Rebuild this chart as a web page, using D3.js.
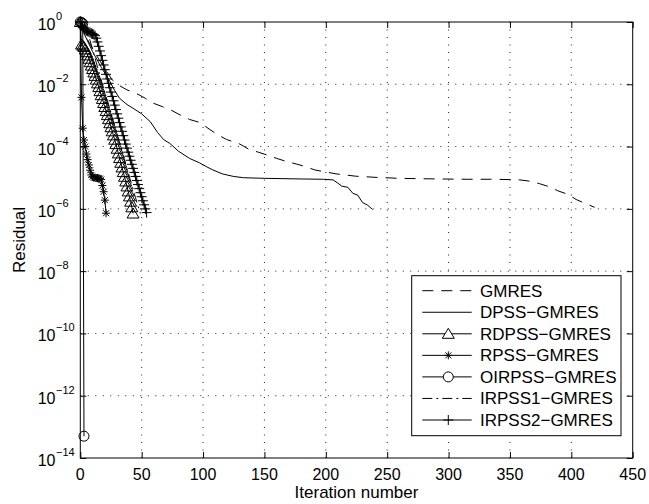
<!DOCTYPE html>
<html><head><meta charset="utf-8">
<script src="https://cdn.jsdelivr.net/npm/d3@7"></script>
<style>
body{margin:0;background:#fff}
svg{display:block}
text{font-family:"Liberation Sans",Arial,Helvetica,sans-serif;fill:#000}
</style>
</head><body>
<svg id="c" width="649" height="504"></svg>
<script>
// ---------- data ----------
const xTicks = [0, 50, 100, 150, 200, 250, 300, 350, 400, 450];
const yTickExps = [0, -2, -4, -6, -8, -10, -12, -14];
const seriesNames = ["GMRES", "DPSS\u2212GMRES", "RDPSS\u2212GMRES", "RPSS\u2212GMRES",
  "OIRPSS\u2212GMRES", "IRPSS1\u2212GMRES", "IRPSS2\u2212GMRES"];

// residuals stored as log10(residual)
const gmresIter = [0, 5, 12, 20, 26, 31, 38, 45, 53, 59, 67, 74, 82, 89, 97, 104, 111, 119, 130, 137, 145, 152, 160, 168, 176, 184, 191, 199, 209, 216, 224, 233, 241, 249, 259, 275, 291, 316, 334, 350, 358, 366, 374, 382, 389, 397, 404, 411, 419];
const gmresLog = [0, -0.5, -1.0, -1.5, -1.86, -2.02, -2.18, -2.28, -2.45, -2.6, -2.72, -2.83, -3.0, -3.13, -3.22, -3.41, -3.6, -3.77, -3.92, -4.08, -4.18, -4.27, -4.38, -4.48, -4.56, -4.65, -4.75, -4.81, -4.88, -4.91, -4.95, -4.97, -4.99, -5.0, -5.02, -5.03, -5.04, -5.05, -5.05, -5.06, -5.07, -5.11, -5.19, -5.29, -5.42, -5.53, -5.7, -5.82, -5.95];

const dpssIter = [0, 4, 10, 17, 24, 28, 32, 38, 43, 50, 57, 63, 68, 73, 80, 89, 97, 103, 108, 116, 125, 133, 150, 180, 198, 206, 210, 213, 218, 222, 226, 230, 234, 238];
const dpssLog = [0, -0.45, -0.95, -1.45, -1.9, -2.2, -2.45, -2.65, -2.77, -2.95, -3.2, -3.55, -3.78, -3.9, -4.15, -4.38, -4.52, -4.65, -4.75, -4.88, -4.96, -5.0, -5.02, -5.04, -5.05, -5.07, -5.18, -5.27, -5.31, -5.5, -5.56, -5.8, -5.88, -6.02];

// one value per iteration, starting at iteration 0
const rdpssLog = [0, -0.72, -0.76, -0.8, -0.88, -0.97, -1.07, -1.18, -1.29, -1.4, -1.51, -1.62, -1.73, -1.85, -1.97, -2.09, -2.22, -2.35, -2.47, -2.6, -2.73, -2.86, -2.99, -3.12, -3.25, -3.38, -3.51, -3.64, -3.78, -3.92, -4.07, -4.22, -4.37, -4.52, -4.67, -4.82, -4.97, -5.12, -5.28, -5.44, -5.6, -5.77, -5.95, -6.15];
const rpssLog = [0, -2.42, -3.41, -3.79, -4.0, -4.24, -4.42, -4.59, -4.76, -4.91, -4.97, -5.0, -5.0, -5.01, -5.01, -5.02, -5.03, -5.06, -5.25, -5.45, -5.72, -6.14];
const oirpssLog = [0, -0.02, -0.05, -13.3];
const irpss1Log = [0, -0.15, -0.22, -0.27, -0.31, -0.35, -0.4, -0.48, -0.6, -0.74, -0.88, -1.02, -1.16, -1.3, -1.44, -1.58, -1.72, -1.86, -2.0, -2.13, -2.27, -2.4, -2.54, -2.67, -2.81, -2.94, -3.08, -3.21, -3.35, -3.48, -3.62, -3.75, -3.89, -4.02, -4.16, -4.29, -4.43, -4.56, -4.7, -4.83, -4.97, -5.1, -5.24, -5.37, -5.51, -5.64, -5.78, -5.91, -6.05, -6.15];
const irpss2Log = [0, -0.12, -0.18, -0.22, -0.25, -0.28, -0.3, -0.32, -0.34, -0.36, -0.38, -0.4, -0.44, -0.52, -0.64, -0.78, -0.93, -1.08, -1.23, -1.38, -1.53, -1.68, -1.83, -1.97, -2.11, -2.25, -2.39, -2.53, -2.67, -2.81, -2.95, -3.09, -3.23, -3.37, -3.51, -3.65, -3.79, -3.92, -4.05, -4.18, -4.31, -4.44, -4.57, -4.7, -4.83, -4.96, -5.09, -5.22, -5.35, -5.48, -5.61, -5.74, -5.87, -6.0, -6.12];

// ---------- layout ----------
const L = 80.3, R = 632.7, T = 22, B = 458;
const svg = d3.select("#c");
const x = d3.scaleLinear().domain([0, 450]).range([L, R]);
const y = d3.scaleLog().domain([1e-14, 1]).range([B, T]);

svg.append("rect").attr("x", 0).attr("y", 0).attr("width", 649).attr("height", 504).attr("fill", "#fff");

// grid (dotted)
const grid = svg.append("g").attr("stroke", "#222").attr("stroke-width", 1).attr("stroke-dasharray", "1,6.5");
xTicks.slice(1, -1).forEach(t => {
  grid.append("line").attr("x1", x(t)).attr("x2", x(t)).attr("y1", T).attr("y2", B);
});
yTickExps.slice(1, -1).forEach(e => {
  grid.append("line").attr("x1", L).attr("x2", R).attr("y1", y(Math.pow(10, e))).attr("y2", y(Math.pow(10, e)));
});

// axes via d3 axis (ticks inward), all four sides
const tl = 6;
const axB = d3.axisBottom(x).tickValues(xTicks).tickSize(-tl).tickFormat("");
const axT = d3.axisTop(x).tickValues(xTicks).tickSize(-tl).tickFormat("");
const yVals = yTickExps.map(e => Math.pow(10, e));
const axL = d3.axisLeft(y).tickValues(yVals).tickSize(-tl).tickFormat("");
const axR = d3.axisRight(y).tickValues(yVals).tickSize(-tl).tickFormat("");
function styleAx(g) { g.selectAll(".domain").remove(); g.selectAll("line").attr("stroke", "#000"); }
svg.append("g").attr("transform", `translate(0,${B})`).call(axB).call(styleAx);
svg.append("g").attr("transform", `translate(0,${T})`).call(axT).call(styleAx);
svg.append("g").attr("transform", `translate(${L},0)`).call(axL).call(styleAx);
svg.append("g").attr("transform", `translate(${R},0)`).call(axR).call(styleAx);

// tick labels
xTicks.forEach(t => {
  svg.append("text").attr("x", x(t)).attr("y", B + 22).attr("text-anchor", "middle")
    .attr("font-size", 16).text(t);
});
yTickExps.forEach(e => {
  const yy = y(Math.pow(10, e));
  svg.append("text").attr("x", 55.5).attr("y", yy + 8).attr("text-anchor", "end")
    .attr("font-size", 16).text("10");
  svg.append("text").attr("x", 56).attr("y", yy - 2).attr("text-anchor", "start")
    .attr("font-size", 11).text(e === 0 ? "0" : "\u2212" + Math.abs(e));
});

// axis titles
svg.append("text").attr("x", (L + R) / 2).attr("y", 498).attr("text-anchor", "middle")
  .attr("font-size", 17).text("Iteration number");
svg.append("text").attr("transform", `translate(25,${(T + B) / 2}) rotate(-90)`)
  .attr("text-anchor", "middle").attr("font-size", 17).text("Residual");

// ---------- series ----------
svg.append("clipPath").attr("id", "clip").append("rect")
  .attr("x", L - 8).attr("y", T - 8).attr("width", R - L + 16).attr("height", B - T + 16);
const plot = svg.append("g").attr("clip-path", "url(#clip)");

function toPts(iters, logs) { return logs.map((v, i) => [iters ? iters[i] : i, Math.pow(10, v)]); }
const line = d3.line().x(d => x(d[0])).y(d => y(d[1]));

const markers = {
  tri: "M0,-5.5L6,4.5L-6,4.5Z",
  star: "M-4,0H4M0,-4V4M-3,-3L3,3M-3,3L3,-3",
  circ: d3.arc()({innerRadius: 0, outerRadius: 5, startAngle: 0, endAngle: 2 * Math.PI}),
  plus: "M-5,0H5M0,-5V5"
};

const series = [
  {pts: toPts(gmresIter, gmresLog), dash: "11,8", marker: null},
  {pts: toPts(dpssIter, dpssLog), dash: null, marker: null},
  {pts: toPts(null, rdpssLog), dash: null, marker: "tri"},
  {pts: toPts(null, rpssLog), dash: null, marker: "star"},
  {pts: toPts(null, oirpssLog), dash: null, marker: "circ"},
  {pts: toPts(null, irpss1Log), dash: "10,4,2,4", marker: null},
  {pts: toPts(null, irpss2Log), dash: null, marker: "plus"}
];

series.forEach(s => {
  plot.append("path").attr("d", line(s.pts)).attr("fill", "none").attr("stroke", "#000")
    .attr("stroke-width", 1).attr("stroke-dasharray", s.dash);
  if (s.marker) {
    plot.selectAll(null).data(s.pts).enter().append("path")
      .attr("transform", d => `translate(${x(d[0])},${y(d[1])})`)
      .attr("d", markers[s.marker]).attr("fill", "none").attr("stroke", "#000").attr("stroke-width", 1);
  }
});

// frame
svg.append("rect").attr("x", L).attr("y", T).attr("width", R - L).attr("height", B - T)
  .attr("fill", "none").attr("stroke", "#000").attr("stroke-width", 1);

// ---------- legend ----------
const lg = svg.append("g");
const lx0 = 411.7, ly0 = 275.7, lw = 621 - 411.7, lh = 435.7 - 275.7;
lg.append("rect").attr("x", lx0).attr("y", ly0).attr("width", lw).attr("height", lh)
  .attr("fill", "#fff").attr("stroke", "#000").attr("stroke-width", 1);
const rowY = d3.scaleLinear().domain([0, 6]).range([290.7, 420]);
series.forEach((s, i) => {
  const yy = rowY(i);
  lg.append("line").attr("x1", 422.3).attr("x2", 471.7).attr("y1", yy).attr("y2", yy)
    .attr("stroke", "#000").attr("stroke-width", 1).attr("stroke-dasharray", s.dash);
  if (s.marker) {
    lg.append("path").attr("transform", `translate(448.3,${yy})`).attr("d", markers[s.marker])
      .attr("fill", s.marker === "plus" || s.marker === "star" ? "none" : "#fff")
      .attr("stroke", "#000").attr("stroke-width", 1);
  }
  lg.append("text").attr("x", 480).attr("y", yy + 6).attr("font-size", 17).text(seriesNames[i]);
});
</script>
</body></html>
